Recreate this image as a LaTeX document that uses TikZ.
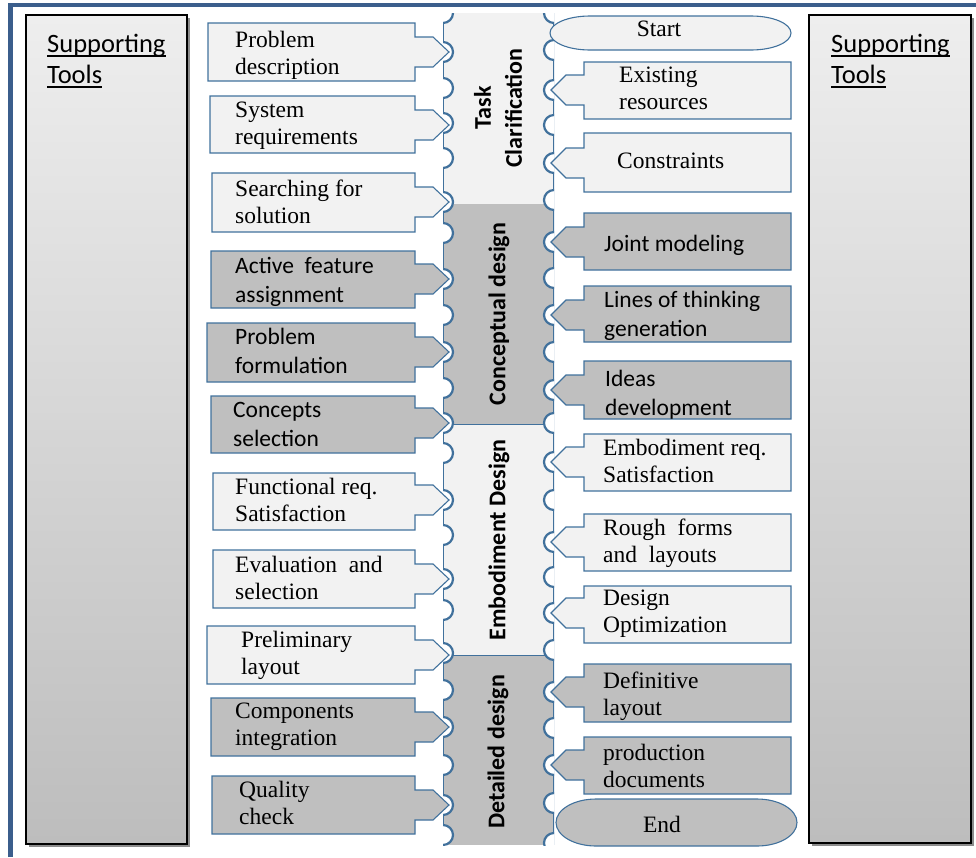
\documentclass[tikz,border=0pt]{standalone}
\usepackage{fontspec}
\setmainfont{Liberation Serif}
\newfontfamily\carlito{Carlito}
\definecolor{light}{HTML}{F2F2F2}
\definecolor{gray}{HTML}{BFBFBF}
\definecolor{bord}{HTML}{41719C}
\definecolor{frame}{RGB}{59,94,140}
\definecolor{panelTop}{HTML}{EEEEEE}
\definecolor{panelBot}{HTML}{BDBDBD}
\newcommand\twoline[2]{\parbox[t]{6cm}{\raggedright\leavevmode #1\\#2}}
\newcommand\myul[1]{\leavevmode\setbox0\hbox{#1}\rlap{\rule[-4.5pt]{\wd0}{1.8pt}}\box0}
\newcommand\LB[5]{\draw[boxline, fill=#5] (#1,#2) -- (415,#2) -- (415,#4-15) -- (433,#4-15) -- (449,#4) -- (433,#4+15) -- (415,#4+15) -- (415,#3) -- (#1,#3) -- cycle;}
\newcommand\RB[4]{\draw[boxline, fill=#4] (791,#1) -- (584,#1) -- (584,#3-15) -- (566,#3-15) -- (551,#3) -- (566,#3+15) -- (584,#3+15) -- (584,#2) -- (791,#2) -- cycle;}
\newcommand\TERM[5]{\draw[boxline, fill=#5] ({#1+40},#3) -- ({#2-40},#3) arc[start angle=-90, end angle=90, x radius=40, y radius={(#4-#3)/2}] -- ({#1+40},#4) arc[start angle=90, end angle=270, x radius=40, y radius={(#4-#3)/2}] -- cycle;}
\begin{document}
\begin{tikzpicture}[x=1pt,y=-1pt,
  boxline/.style={draw=bord, line width=1.1pt, line join=miter},
  serif/.style={font=\fontsize{23.5}{27}\selectfont, inner sep=0pt, anchor=base west},
  sans/.style={font=\carlito\fontsize{23.5}{29.5}\selectfont, inner sep=0pt, anchor=base west},
  vlab/.style={font=\carlito\bfseries\fontsize{24}{31}\selectfont, rotate=90, align=center, inner sep=0pt},
  panel/.style={draw=black, line width=2pt, top color=panelTop, bottom color=panelBot},
  ptxt/.style={font=\carlito\fontsize{26.5}{31}\selectfont, inner sep=0pt, anchor=base west},
  notch/.style={draw=bord, line width=2.2pt, fill=white},
]
\useasboundingbox (0,0) rectangle (976,857);
% outer frame
\draw[line width=4.5pt, color=frame] (10.5,857) -- (10.5,5) -- (976,5);
% side panels
\fill[black!45] (28.5,17.5) rectangle (189.5,846.5);
\path[panel] (26,15) rectangle (187,844);
\node[ptxt] (lt) at (47,52) {\twoline{\myul{Supporting}}{\myul{Tools}}};
\fill[black!45] (811.5,17.5) rectangle (973.5,845.5);
\path[panel] (809,15) rectangle (971,843);
\node[ptxt] (rt) at (831,52) {\twoline{\myul{Supporting}}{\myul{Tools}}};
% centre column
\begin{scope}
\clip (443,13) rectangle (554,845);
\fill[light] (443,13) rectangle (554,204);
\fill[gray] (443,204) rectangle (554,424);
\fill[light] (443,424) rectangle (554,655);
\fill[gray] (443,655) rectangle (554,845);
\draw[bord, line width=0.8pt] (443,424) -- (554,424) (443,655) -- (554,655);
\draw[bord, line width=2.2pt] (443,13) -- (443,845) (554,13) -- (554,845);
\foreach \yy in {13,52,88,123,158,202,233,279,315,352,388,423,453,500,535,579,610,653,690,727,765,805,835}
  \path[notch] (443,\yy) circle[radius=10];
\foreach \yy in {13,50,90,125,163,200,242,278,315,352,390,423,462,500,542,577,613,650,692,728,765,803,843}
  \path[notch] (554,\yy) circle[radius=10];
\end{scope}
\node[vlab] (p1) at (498,108) {Task\\Clarification};
\node[vlab] (p2) at (499,314) {Conceptual design};
\node[vlab] (p3) at (499,540) {Embodiment Design};
\node[vlab] (p4) at (498,752) {Detailed design};
% left boxes
\LB{208}{23}{81}{52}{light}
\node[serif] (l1) at (235,47) {\twoline{Problem}{description}};
\LB{210}{96}{153}{125}{light}
\node[serif] (l2) at (235,117) {\twoline{System}{requirements}};
\LB{212}{173}{232}{202}{light}
\node[serif] (l3) at (235,196) {\twoline{Searching for}{solution}};
\LB{211}{251}{308}{279}{gray}
\node[sans] (l4) at (235,273) {\twoline{Active\ \ feature}{assignment}};
\LB{207}{323}{382}{352}{gray}
\node[sans] (l5) at (235,344) {\twoline{Problem}{formulation}};
\LB{211}{396}{453}{423}{gray}
\node[sans] (l6) at (233,417) {\twoline{Concepts}{selection}};
\LB{213}{473}{530}{500}{light}
\node[serif] (l7) at (235,494) {\twoline{Functional req.}{Satisfaction}};
\LB{213}{550}{608}{579}{light}
\node[serif] (l8) at (235,572) {\twoline{Evaluation\ \ and}{selection}};
\LB{207}{626}{684}{655}{light}
\node[serif] (l9) at (241,647) {\twoline{Preliminary}{layout}};
\LB{211}{698}{756}{727}{gray}
\node[serif] (l10) at (235,718) {\twoline{Components}{integration}};
\LB{212}{776}{834}{805}{gray}
\node[serif] (l11) at (239,797) {\twoline{Quality}{check}};
% right boxes
\TERM{550}{791}{16}{50}{light}
\node[serif, anchor=base] (start) at (659,36) {Start};
\RB{62}{119}{90}{light}
\node[serif] (r1) at (619,82) {\twoline{Existing}{resources}};
\RB{133}{192}{163}{light}
\node[serif] (r2) at (617,168) {Constraints};
\RB{213}{270}{242}{gray}
\node[sans] (r3) at (604,251) {Joint modeling};
\RB{286}{342}{315}{gray}
\node[sans] (r4) at (604,307) {\twoline{Lines of thinking}{generation}};
\RB{361}{419}{390}{gray}
\node[sans] (r5) at (605,386) {\twoline{Ideas}{development}};
\RB{434}{491}{462}{light}
\node[serif] (r6) at (603,455) {\twoline{Embodiment req.}{Satisfaction}};
\RB{514}{571}{542}{light}
\node[serif] (r7) at (603,535) {\twoline{Rough\ \ forms}{and\ \ layouts}};
\RB{586}{643}{613}{light}
\node[serif] (r8) at (603,605) {\twoline{Design}{Optimization}};
\RB{664}{722}{692}{gray}
\node[serif] (r9) at (603,688) {\twoline{Definitive}{layout}};
\RB{737}{794}{765}{gray}
\node[serif] (r10) at (603,760) {\twoline{production}{documents}};
\TERM{556}{797}{799}{846}{gray}
\node[serif, anchor=base] (end) at (662,832) {End};
\end{tikzpicture}
\end{document}
